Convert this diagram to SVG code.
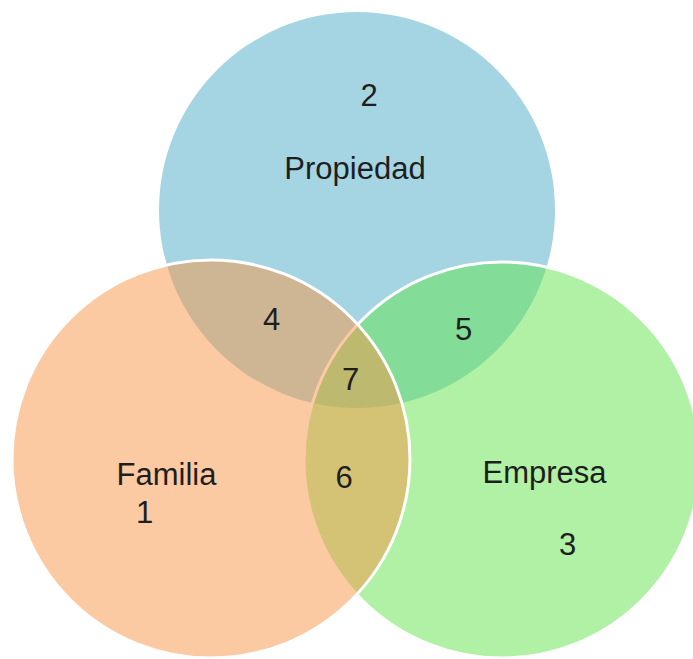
<svg xmlns="http://www.w3.org/2000/svg" width="693" height="659" viewBox="0 0 693 659">
  <style>
    .lbl { font-family: "Liberation Sans", Arial, sans-serif; font-size: 31px; fill: #1e1e1e; text-anchor: middle; }
    .circ { fill-opacity: 0.5; }
    .edged { stroke: #ffffff; stroke-width: 3; }
  </style>
  <rect width="693" height="659" fill="#ffffff"/>
  <g id="node-propiedad">
    <circle class="circ" cx="357" cy="210" r="198" fill="#4BACC6"/>
    <text class="lbl" x="369" y="106">2</text>
    <text class="lbl" x="355" y="179">Propiedad</text>
  </g>
  <g id="node-empresa">
    <circle class="circ edged" cx="502" cy="460" r="198" fill="#61E34B"/>
    <text class="lbl" x="544.5" y="483">Empresa</text>
    <text class="lbl" x="567.5" y="555">3</text>
  </g>
  <g id="node-familia">
    <circle class="circ edged" cx="211" cy="459" r="199" fill="#F79646"/>
    <text class="lbl" x="166.5" y="485">Familia</text>
    <text class="lbl" x="144.5" y="523">1</text>
  </g>
  <g id="connectors"></g>
  <g id="region-4"><text class="lbl" x="271.5" y="330">4</text></g>
  <g id="region-5"><text class="lbl" x="463.5" y="340">5</text></g>
  <g id="region-6"><text class="lbl" x="344" y="488">6</text></g>
  <g id="region-7"><text class="lbl" x="350.5" y="390">7</text></g>
</svg>
